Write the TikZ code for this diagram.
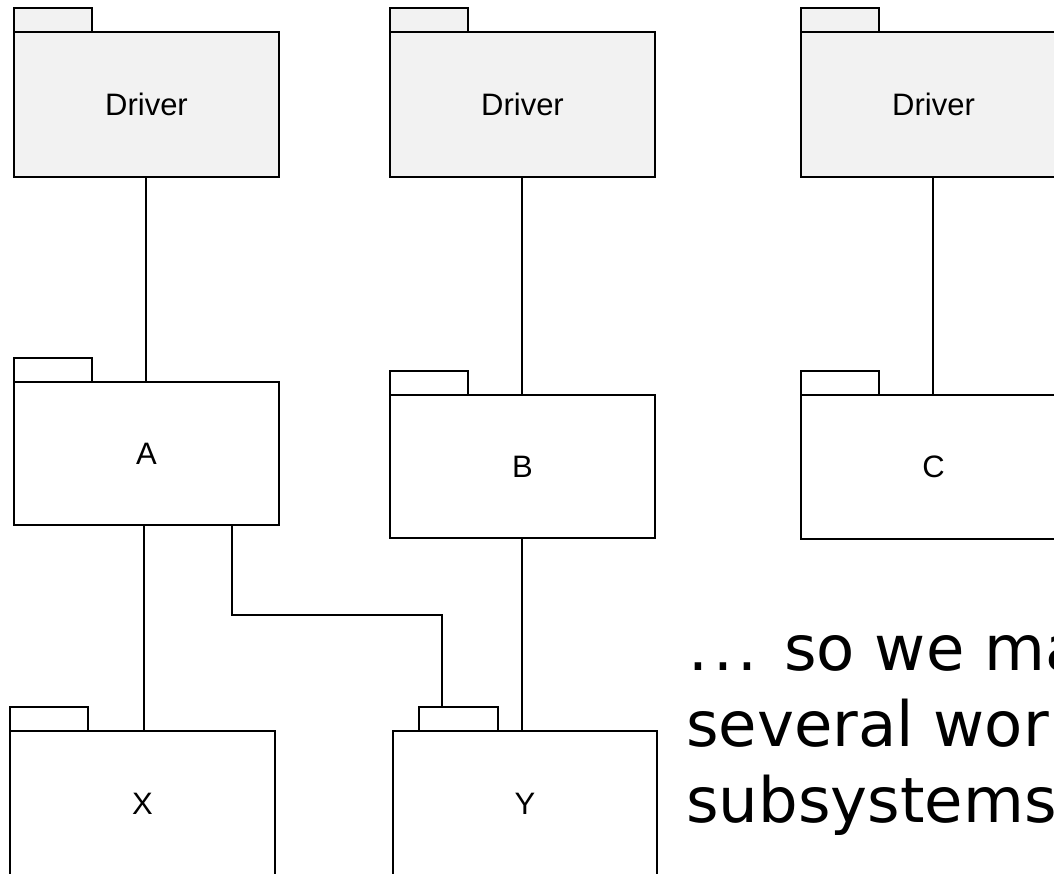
\documentclass[tikz,border=0pt]{standalone}
\usepackage{fontspec}
\setmainfont{Liberation Sans}
\newfontfamily\bigfont{DejaVu Sans}
\definecolor{drvgray}{HTML}{F2F2F2}
\begin{document}
\begin{tikzpicture}[x=1pt,y=-1pt,
  pkg/.style={draw, line width=2pt, outer sep=0pt, minimum width=265pt,
    minimum height=145pt, inner sep=0pt, fill=white,
    font=\fontsize{31}{36}\selectfont},
  drv/.style={pkg, fill=drvgray},
  tabbox/.style={draw, line width=2pt, outer sep=0pt, minimum width=78pt,
    minimum height=24pt, inner sep=0pt, anchor=south west, fill=white},
  link/.style={line width=1.6pt},
  bigtext/.style={anchor=base west, inner sep=0pt,
    font=\bigfont\fontsize{62.5}{70}\selectfont}]
\useasboundingbox (0,0) rectangle (1054,873);
% Drivers
\node[drv] (d1) at (146.5,104.5) {Driver};
\node[tabbox, fill=drvgray] (d1t) at (d1.north west) {};
\node[drv] (d2) at (522.5,104.5) {Driver};
\node[tabbox, fill=drvgray] (d2t) at (d2.north west) {};
\node[drv] (d3) at (933.5,104.5) {Driver};
\node[tabbox, fill=drvgray] (d3t) at (d3.north west) {};
% A B C
\node[pkg, minimum height=143pt] (a) at (146.5,453.5) {A};
\node[tabbox] (at) at (a.north west) {};
\node[pkg, minimum height=143pt] (b) at (522.5,466.5) {B};
\node[tabbox] (bt) at (b.north west) {};
\node[pkg, minimum height=144pt] (c) at (933.5,467) {C};
\node[tabbox] (ct) at (c.north west) {};
% X Y
\node[pkg] (x) at (142.5,803.5) {X};
\node[tabbox] (xt) at (x.north west) {};
\node[pkg, minimum width=264pt] (y) at (525,803.5) {Y};
\node[tabbox, minimum width=79pt] (yt) at ([xshift=26pt]y.north west) {};
% connectors
\draw[link] ([xshift=-0.5pt]d1.south) -- ([xshift=-0.5pt]a.north);
\draw[link] ([xshift=-0.5pt]d2.south) -- ([xshift=-0.5pt]b.north);
\draw[link] ([xshift=-0.5pt]d3.south) -- ([xshift=-0.5pt]c.north);
\draw[link] ([xshift=-2.5pt]a.south) -- ([xshift=1.5pt]x.north);
\draw[link] ([xshift=-0.5pt]b.south) -- ([xshift=-3pt]y.north);
\draw[link] ([xshift=85.5pt]a.south) -- ++(0,90) -| ([xshift=-16.5pt]yt.north);
% text
\node[bigtext] (t1) at (688,670) {.\kern5pt.\kern5pt. so we ma};
\node[bigtext] (t2) at (686,746) {several wor};
\node[bigtext] (t3) at (686,822) {subsystems};
\end{tikzpicture}
\end{document}
